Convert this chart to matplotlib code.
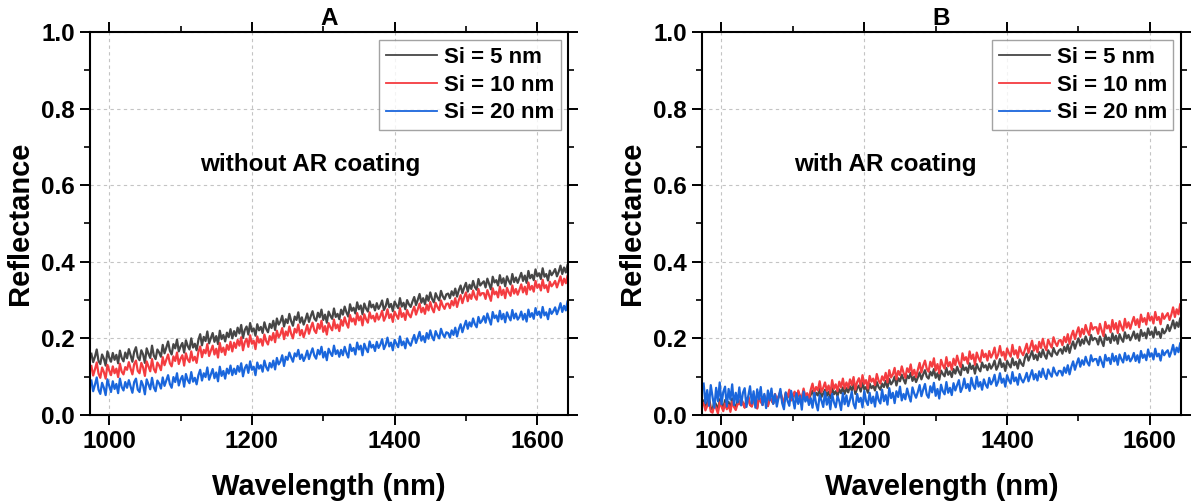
import numpy as np
import matplotlib
matplotlib.use("Agg")
import matplotlib.pyplot as plt
from matplotlib.ticker import MultipleLocator

plt.rcParams['font.family'] = ['Liberation Sans', 'DejaVu Sans']
plt.rcParams['font.weight'] = 'bold'
plt.rcParams['path.simplify'] = False

# wavelength range (nm); spectra sampled every 2.5 nm
wl_start, wl_end = 975, 1645

# reflectance values in thousandths
# ---------------- Panel A: without AR coating ----------------
a_si5 = [
    160, 138, 152, 171, 141, 133, 158, 147, 129, 166, 150, 139, 162, 144, 157, 135, 168, 149, 140, 163,
    148, 172, 156, 139, 165, 177, 151, 143, 169, 158, 136, 174, 160, 149, 181, 155, 146, 171, 163, 152,
    183, 161, 176, 192, 168, 158, 185, 174, 197, 166, 179, 188, 163, 195, 180, 171, 200, 176, 186, 169,
    196, 211, 182, 204, 193, 218, 187, 201, 214, 191, 206, 185, 220, 198, 209, 192, 215, 203, 224, 200,
    219, 206, 228, 213, 235, 201, 222, 231, 210, 240, 218, 226, 207, 237, 221, 230, 214, 242, 225, 216,
    238, 227, 246, 222, 252, 236, 244, 259, 231, 250, 240, 264, 245, 233, 257, 248, 268, 241, 255, 236,
    249, 265, 243, 258, 271, 252, 246, 267, 255, 275, 248, 262, 241, 270, 259, 251, 278, 256, 264, 250,
    275, 262, 283, 268, 257, 289, 272, 280, 265, 294, 276, 286, 263, 291, 278, 270, 297, 281, 288, 273,
    292, 277, 286, 299, 274, 284, 303, 281, 290, 271, 296, 287, 279, 305, 283, 293, 276, 300, 289, 282,
    296, 308, 287, 301, 316, 293, 305, 289, 312, 298, 320, 303, 294, 318, 307, 299, 324, 310, 302, 315,
    317, 305, 323, 312, 330, 309, 326, 338, 318, 333, 345, 322, 340, 329, 350, 334, 327, 355, 338, 344,
    349, 333, 356, 342, 328, 361, 346, 352, 338, 365, 344, 357, 336, 362, 350, 341, 368, 347, 359, 345,
    358, 371, 350, 364, 345, 376, 357, 366, 352, 380, 362, 370, 355, 383, 361, 368, 351, 377, 365, 372,
    381, 362, 374, 390, 368, 385, 372, 393, 378]
a_si10 = [
    128, 103, 119, 137, 108, 97, 124, 112, 95, 131, 116, 104, 127, 109, 121, 99, 134, 113, 106, 125,
    118, 138, 121, 106, 133, 142, 115, 109, 136, 124, 102, 140, 127, 114, 146, 120, 111, 137, 129, 117,
    151, 130, 144, 158, 135, 127, 153, 141, 163, 133, 147, 156, 129, 161, 145, 138, 166, 142, 152, 136,
    165, 179, 151, 170, 161, 185, 154, 168, 181, 158, 173, 150, 188, 164, 176, 157, 183, 170, 191, 166,
    189, 175, 196, 181, 203, 169, 190, 199, 178, 208, 186, 194, 172, 205, 189, 198, 181, 210, 193, 184,
    206, 195, 214, 190, 220, 203, 211, 227, 198, 218, 207, 231, 212, 200, 225, 215, 236, 208, 222, 203,
    218, 235, 212, 228, 241, 221, 214, 238, 225, 246, 217, 232, 210, 240, 229, 221, 249, 226, 236, 219,
    248, 233, 255, 239, 228, 261, 244, 252, 236, 266, 247, 258, 234, 263, 250, 241, 268, 252, 259, 244,
    265, 249, 258, 272, 246, 257, 276, 253, 263, 243, 270, 260, 251, 279, 256, 266, 248, 274, 262, 255,
    271, 283, 262, 276, 291, 268, 280, 264, 288, 273, 295, 278, 268, 293, 282, 274, 299, 285, 277, 290,
    291, 279, 298, 286, 305, 282, 300, 313, 292, 308, 320, 297, 315, 303, 325, 309, 301, 329, 312, 318,
    318, 303, 326, 312, 298, 331, 315, 322, 307, 335, 313, 327, 305, 332, 320, 311, 338, 317, 329, 314,
    327, 341, 320, 335, 315, 346, 327, 337, 322, 350, 332, 341, 325, 353, 331, 339, 321, 348, 336, 342,
    350, 333, 347, 362, 339, 356, 344, 365, 350]
a_si20 = [
    90, 62, 79, 98, 66, 55, 84, 71, 52, 93, 76, 60, 88, 68, 81, 57, 95, 73, 64, 86,
    71, 91, 74, 58, 86, 95, 66, 60, 89, 77, 54, 93, 80, 67, 97, 72, 62, 90, 82, 69,
    98, 76, 90, 104, 81, 71, 99, 86, 109, 77, 93, 102, 74, 107, 91, 83, 112, 87, 97, 80,
    104, 118, 90, 109, 99, 124, 92, 106, 120, 96, 111, 88, 126, 102, 115, 95, 121, 108, 129, 104,
    121, 107, 128, 113, 135, 101, 122, 131, 110, 140, 118, 126, 104, 137, 121, 130, 113, 142, 125, 116,
    136, 124, 142, 119, 149, 132, 140, 156, 128, 152, 144, 163, 150, 139, 161, 153, 170, 146, 158, 141,
    152, 168, 146, 161, 174, 155, 147, 170, 158, 178, 150, 165, 143, 173, 162, 154, 181, 159, 169, 152,
    170, 156, 178, 162, 150, 184, 167, 175, 158, 189, 171, 181, 156, 186, 173, 164, 192, 176, 183, 167,
    191, 175, 184, 198, 172, 183, 202, 179, 189, 169, 196, 186, 177, 205, 182, 192, 174, 200, 188, 181,
    196, 209, 188, 202, 217, 194, 206, 190, 214, 199, 221, 204, 195, 219, 208, 200, 225, 211, 203, 216,
    214, 202, 221, 209, 228, 205, 224, 237, 216, 232, 246, 225, 242, 231, 252, 237, 229, 256, 240, 246,
    258, 241, 265, 250, 236, 269, 253, 260, 244, 272, 250, 264, 242, 268, 256, 247, 274, 252, 265, 249,
    256, 270, 249, 264, 244, 275, 256, 266, 251, 279, 261, 270, 254, 282, 260, 268, 250, 277, 264, 271,
    281, 263, 276, 292, 269, 285, 273, 298, 282]

# ---------------- Panel B: with AR coating ----------------
b_si5 = [
    38, 21, 33, 45, 19, 14, 36, 27, 11, 41, 30, 18, 39, 24, 34, 15, 43, 28, 20, 37,
    29, 44, 31, 20, 40, 47, 27, 23, 43, 35, 18, 46, 37, 27, 50, 32, 24, 44, 38, 30,
    52, 36, 47, 58, 40, 34, 55, 45, 61, 38, 50, 57, 36, 60, 48, 42, 64, 46, 53, 41,
    53, 64, 45, 58, 51, 68, 47, 56, 66, 50, 61, 44, 70, 54, 62, 49, 67, 57, 72, 55,
    70, 59, 75, 64, 81, 55, 70, 77, 61, 84, 67, 73, 58, 82, 70, 76, 64, 86, 73, 66,
    82, 73, 89, 71, 94, 80, 87, 100, 77, 96, 88, 105, 93, 82, 103, 96, 110, 89, 100, 86,
    98, 111, 93, 106, 117, 100, 95, 113, 103, 120, 97, 109, 92, 116, 107, 101, 123, 105, 114, 99,
    120, 108, 126, 113, 104, 131, 117, 124, 110, 135, 120, 129, 108, 133, 121, 114, 137, 124, 130, 117,
    134, 121, 129, 142, 118, 128, 146, 125, 135, 115, 141, 132, 124, 148, 130, 139, 121, 145, 134, 128,
    149, 160, 142, 154, 167, 146, 157, 143, 164, 151, 171, 156, 147, 169, 160, 153, 175, 163, 157, 168,
    172, 160, 178, 166, 184, 162, 180, 192, 173, 188, 200, 181, 197, 186, 205, 192, 184, 209, 195, 201,
    198, 184, 205, 192, 180, 210, 196, 202, 188, 213, 194, 207, 186, 211, 199, 191, 216, 200, 209, 195,
    205, 218, 199, 212, 194, 222, 206, 215, 200, 226, 209, 218, 202, 229, 210, 217, 201, 225, 213, 220,
    235, 219, 231, 247, 226, 242, 230, 253, 238]
b_si10 = [
    31, 12, 24, 36, 9, 6, 27, 18, 4, 33, 22, 10, 30, 15, 26, 8, 35, 21, 13, 29,
    28, 44, 30, 19, 40, 48, 26, 22, 45, 35, 17, 47, 36, 26, 52, 32, 23, 46, 40, 30,
    55, 37, 49, 62, 41, 34, 58, 46, 66, 39, 52, 61, 36, 64, 50, 43, 69, 47, 57, 42,
    66, 82, 58, 73, 64, 88, 60, 71, 85, 63, 77, 56, 91, 68, 80, 62, 87, 72, 95, 69,
    85, 71, 93, 78, 99, 66, 86, 96, 74, 104, 81, 91, 69, 102, 87, 95, 78, 107, 90, 82,
    101, 90, 110, 85, 117, 98, 106, 123, 93, 115, 104, 127, 110, 97, 122, 112, 132, 104, 118, 99,
    118, 136, 111, 129, 142, 121, 113, 139, 126, 148, 116, 133, 109, 144, 130, 121, 151, 127, 138, 118,
    147, 130, 155, 137, 125, 161, 143, 151, 134, 166, 146, 158, 131, 163, 149, 139, 169, 151, 160, 142,
    167, 150, 160, 176, 147, 158, 180, 155, 165, 144, 174, 162, 152, 183, 158, 169, 149, 178, 164, 156,
    171, 186, 162, 178, 194, 168, 182, 164, 191, 175, 199, 180, 169, 197, 185, 176, 203, 189, 180, 194,
    196, 182, 204, 190, 211, 186, 207, 220, 198, 215, 229, 204, 225, 211, 235, 219, 209, 240, 223, 229,
    229, 212, 238, 221, 206, 243, 226, 234, 216, 248, 224, 240, 214, 245, 231, 220, 251, 228, 242, 225,
    242, 256, 235, 250, 229, 262, 243, 253, 236, 266, 247, 257, 239, 269, 248, 256, 237, 265, 251, 259,
    266, 248, 262, 281, 256, 276, 263, 290, 272]
b_si20 = [
    82, 31, 65, 24, 78, 47, 19, 71, 36, 85, 28, 60, 74, 22, 68, 40, 80, 26, 58, 33,
    72, 25, 58, 70, 21, 49, 75, 30, 62, 19, 67, 41, 73, 26, 55, 18, 64, 38, 69, 29,
    54, 22, 46, 68, 31, 15, 59, 37, 24, 63, 42, 17, 57, 29, 50, 14, 61, 35, 48, 26,
    44, 19, 58, 30, 12, 52, 38, 21, 60, 27, 47, 15, 55, 33, 20, 49, 36, 13, 57, 28,
    51, 23, 40, 61, 29, 17, 55, 34, 45, 20, 63, 37, 26, 58, 31, 48, 22, 60, 39, 30,
    66, 36, 52, 27, 70, 44, 58, 31, 62, 47, 74, 38, 55, 41, 69, 50, 35, 72, 56, 45,
    60, 78, 49, 66, 81, 53, 45, 75, 59, 84, 50, 68, 43, 79, 62, 54, 86, 58, 71, 52,
    83, 64, 78, 91, 60, 72, 95, 70, 81, 63, 97, 77, 68, 100, 74, 86, 66, 93, 79, 71,
    97, 80, 89, 105, 76, 87, 109, 84, 95, 74, 104, 91, 82, 112, 88, 98, 79, 107, 93, 85,
    96, 110, 88, 103, 117, 93, 107, 90, 114, 99, 121, 104, 94, 119, 108, 100, 124, 111, 103, 115,
    115, 103, 124, 110, 130, 106, 126, 140, 118, 134, 148, 126, 143, 131, 152, 137, 129, 156, 140, 146,
    146, 130, 152, 139, 125, 157, 142, 149, 133, 160, 140, 154, 131, 158, 146, 137, 162, 143, 155, 140,
    148, 162, 141, 156, 137, 167, 149, 158, 143, 171, 152, 161, 145, 173, 153, 160, 142, 169, 156, 164,
    169, 152, 165, 183, 158, 176, 164, 188, 172]

series_labels = ['Si = 5 nm', 'Si = 10 nm', 'Si = 20 nm']
series_colors = ['#464646', '#f43c40', '#1a66dc']
panel_titles = ['A', 'B']
panel_notes = ['without AR coating', 'with AR coating']
x_ticks = [1000, 1200, 1400, 1600]
y_ticks = [0.0, 0.2, 0.4, 0.6, 0.8, 1.0]

panels = [(a_si5, a_si10, a_si20), (b_si5, b_si10, b_si20)]

fig = plt.figure(figsize=(11.93, 5.04), dpi=100)
axes_pos = [[0.0754, 0.1766, 0.4007, 0.760], [0.5886, 0.1766, 0.4010, 0.760]]
note_x = [0.46, 0.383]

for i, data in enumerate(panels):
    ax = fig.add_axes(axes_pos[i])
    for vals, lab, col in zip(data, series_labels, series_colors):
        ys = np.asarray(vals, dtype=float) / 1000.0
        xs = np.linspace(wl_start, wl_end, len(ys))
        ax.plot(xs, ys, color=col, lw=1.6, label=lab)
    ax.set_xlim(973, 1643)
    ax.set_ylim(0, 1.0)
    ax.set_xticks(x_ticks)
    ax.set_yticks(y_ticks)
    ax.set_yticklabels([f'{v:.1f}' for v in y_ticks])
    ax.xaxis.set_minor_locator(MultipleLocator(100))
    ax.yaxis.set_minor_locator(MultipleLocator(0.1))
    ax.tick_params(which='major', direction='out', length=7, width=1.4,
                   labelsize=17.5, top=True, right=True, pad=4)
    ax.tick_params(which='minor', direction='out', length=4, width=1.2,
                   top=True, right=True)
    for lbl in ax.get_xticklabels() + ax.get_yticklabels():
        lbl.set_fontweight('bold')
    for sp in ax.spines.values():
        sp.set_linewidth(1.5)
    ax.grid(True, which='major', color='#c4c4c4', lw=0.8, ls=(0, (3, 3)))
    ax.set_axisbelow(True)
    ax.set_xlabel('Wavelength (nm)', fontsize=21, fontweight='bold', labelpad=14)
    ax.set_ylabel('Reflectance', fontsize=21, fontweight='bold', labelpad=5)
    ax.set_title(panel_titles[i], fontsize=17.5, fontweight='bold', pad=5)
    ax.text(note_x[i], 0.653, panel_notes[i], transform=ax.transAxes,
            ha='center', va='center', fontsize=17.5, fontweight='bold')
    leg = ax.legend(loc='upper right', bbox_to_anchor=(0.985, 0.978),
                    borderaxespad=0, fancybox=False, frameon=True,
                    edgecolor='#8c8c8c', fontsize=16, handlelength=2.3,
                    handletextpad=0.3, labelspacing=0.3, borderpad=0.3)
    leg.get_frame().set_linewidth(1.0)
    for t in leg.get_texts():
        t.set_fontweight('bold')
    for h in leg.get_lines():
        h.set_linewidth(1.3)

fig.savefig('out.png', dpi=100)
